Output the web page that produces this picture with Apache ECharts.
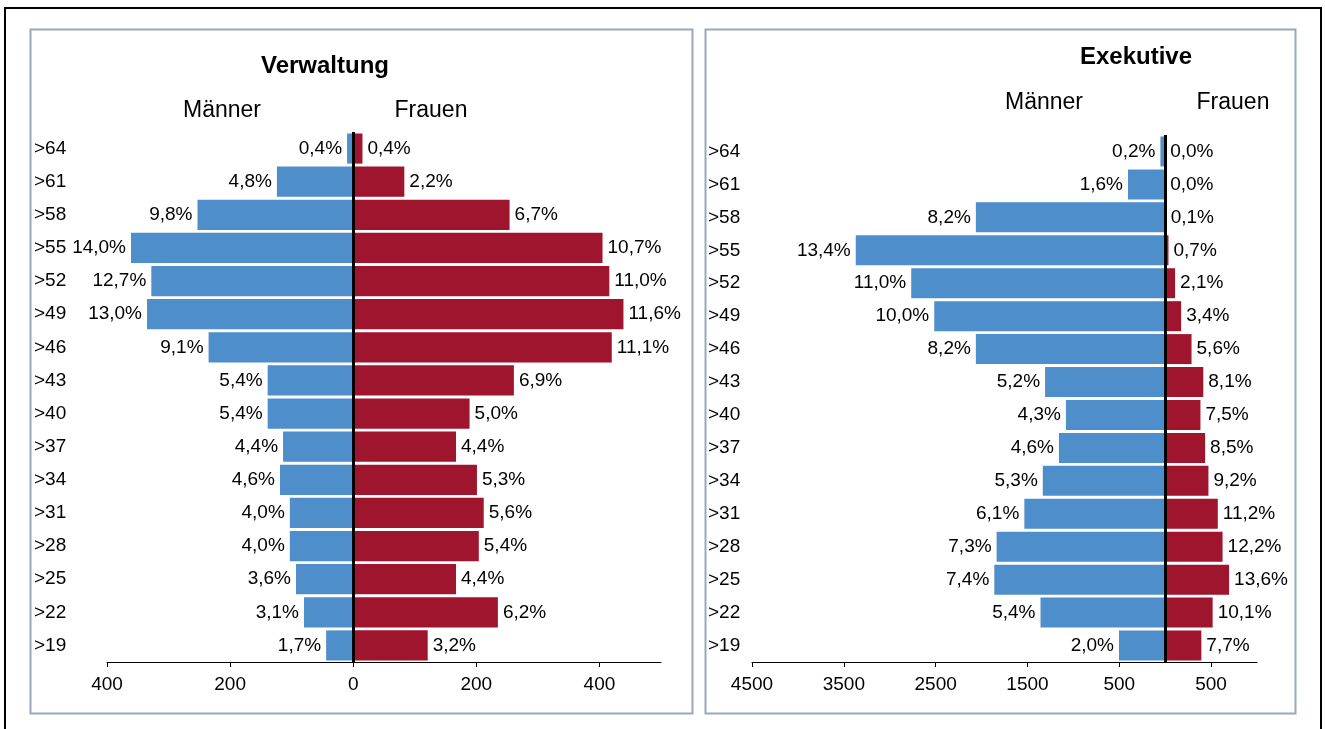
<!DOCTYPE html>
<html>
<head>
<meta charset="utf-8">
<script src="https://cdn.jsdelivr.net/npm/echarts@6/dist/echarts.min.js"></script>
<style>
  html, body { margin: 0; padding: 0; background: #fff; }
  #chart { width: 1325px; height: 729px; }
</style>
</head>
<body>
<div id="chart"></div>
<script>
// Altersgruppen (oben -> unten)
var ageGroups = [">64", ">61", ">58", ">55", ">52", ">49", ">46", ">43", ">40", ">37", ">34", ">31", ">28", ">25", ">22", ">19"];

// Verwaltung: Anzahl (aus Balkenlaenge geschaetzt) und Prozent-Beschriftung
var verwMaenner = [10, 124, 253, 361, 328, 335, 235, 139, 139, 114, 119, 103, 103, 93, 80, 44];
var verwFrauen = [15, 83, 254, 405, 416, 439, 420, 261, 189, 167, 201, 212, 204, 167, 235, 121];
var verwMaennerPct = ["0,4%", "4,8%", "9,8%", "14,0%", "12,7%", "13,0%", "9,1%", "5,4%", "5,4%", "4,4%", "4,6%", "4,0%", "4,0%", "3,6%", "3,1%", "1,7%"];
var verwFrauenPct = ["0,4%", "2,2%", "6,7%", "10,7%", "11,0%", "11,6%", "11,1%", "6,9%", "5,0%", "4,4%", "5,3%", "5,6%", "5,4%", "4,4%", "6,2%", "3,2%"];

// Exekutive
var exekMaenner = [52, 405, 2062, 3370, 2766, 2515, 2062, 1308, 1081, 1157, 1333, 1534, 1836, 1861, 1358, 503];
var exekFrauen = [0, 0, 5, 36, 108, 174, 287, 415, 384, 435, 471, 573, 625, 696, 517, 394];
var exekMaennerPct = ["0,2%", "1,6%", "8,2%", "13,4%", "11,0%", "10,0%", "8,2%", "5,2%", "4,3%", "4,6%", "5,3%", "6,1%", "7,3%", "7,4%", "5,4%", "2,0%"];
var exekFrauenPct = ["0,0%", "0,0%", "0,1%", "0,7%", "2,1%", "3,4%", "5,6%", "8,1%", "7,5%", "8,5%", "9,2%", "11,2%", "12,2%", "13,6%", "10,1%", "7,7%"];

// Achsenbeschriftungen
var verwTicks = [-400, -200, 0, 200, 400];
var exekTicks = [-4500, -3500, -2500, -1500, -500, 500];

var BLUE = "#4e8fcb";
var RED = "#9e152d";
var FONT = "Liberation Sans, Arial, sans-serif";

var myChart = echarts.init(document.getElementById("chart"));

function neg(arr) {
  return arr.map(function (v) { return -v; });
}

function barSeries(name, xi, data, color, pct, pos, withZeroLine) {
  var s = {
    name: name,
    type: "bar",
    xAxisIndex: xi,
    yAxisIndex: xi,
    data: data,
    barGap: "-100%",
    barCategoryGap: "9%",
    itemStyle: { color: color },
    label: {
      show: true,
      position: pos,
      distance: 5,
      color: "#000",
      fontFamily: FONT,
      fontSize: 19,
      formatter: function (p) { return pct[p.dataIndex]; }
    },
    silent: true,
    animation: false
  };
  if (withZeroLine) {
    // schwarze Nulllinie
    s.markLine = {
      silent: true,
      symbol: "none",
      label: { show: false },
      lineStyle: { color: "#000", width: 3, type: "solid" },
      data: [{ xAxis: 0 }]
    };
  }
  return s;
}

function valueAxis(gi, min, max, ticks) {
  return {
    type: "value",
    gridIndex: gi,
    min: min,
    max: max,
    position: "bottom",
    axisLine: { show: true, onZero: false, lineStyle: { color: "#000", width: 1 } },
    axisTick: { show: true, length: 5, customValues: ticks, lineStyle: { color: "#000" } },
    splitLine: { show: false },
    axisLabel: {
      customValues: ticks,
      color: "#000",
      fontFamily: FONT,
      fontSize: 19,
      margin: 13,
      formatter: function (v) { return String(Math.abs(v)); }
    }
  };
}

function catAxis(gi, margin) {
  return {
    type: "category",
    gridIndex: gi,
    data: ageGroups,
    inverse: true,
    axisLine: { show: false },
    axisTick: { show: false },
    axisLabel: {
      color: "#000",
      fontFamily: FONT,
      fontSize: 19,
      align: "left",
      margin: margin
    }
  };
}

function txt(x, y, text, size, bold) {
  return {
    type: "text",
    x: x,
    y: y,
    silent: true,
    style: {
      text: text,
      fill: "#000",
      font: (bold ? "bold " : "") + size + "px " + FONT,
      textAlign: "center",
      textVerticalAlign: "middle"
    }
  };
}

function frame(x, y, w, h, color, lw) {
  return {
    type: "rect",
    silent: true,
    shape: { x: x, y: y, width: w, height: h },
    style: { fill: "none", stroke: color, lineWidth: lw },
    z: -1
  };
}

var option = {
  backgroundColor: "#fff",
  animation: false,
  grid: [
    { left: 107, right: 664, top: 132, bottom: 67 },
    { left: 752, right: 68, top: 135, bottom: 67 }
  ],
  xAxis: [
    valueAxis(0, -400, 500, verwTicks),
    valueAxis(1, -4500, 1000, exekTicks)
  ],
  yAxis: [catAxis(0, 73), catAxis(1, 44)],
  series: [
    barSeries("Männer", 0, neg(verwMaenner), BLUE, verwMaennerPct, "left", false),
    barSeries("Frauen", 0, verwFrauen, RED, verwFrauenPct, "right", true),
    barSeries("Männer", 1, neg(exekMaenner), BLUE, exekMaennerPct, "left", false),
    barSeries("Frauen", 1, exekFrauen, RED, exekFrauenPct, "right", true)
  ],
  graphic: [
    frame(5, 8, 1316, 740, "#000", 2),
    frame(30.5, 29.5, 662, 684, "#98a9bb", 2),
    frame(705.5, 29.5, 590, 684, "#98a9bb", 2),
    txt(325, 66, "Verwaltung", 24, true),
    txt(222, 111, "Männer", 23, false),
    txt(431, 111, "Frauen", 23, false),
    txt(1136, 57, "Exekutive", 24, true),
    txt(1044, 103, "Männer", 23, false),
    txt(1233, 103, "Frauen", 23, false)
  ]
};

myChart.setOption(option);
window.addEventListener("resize", function () {
  myChart.resize();
});
</script>
</body>
</html>
